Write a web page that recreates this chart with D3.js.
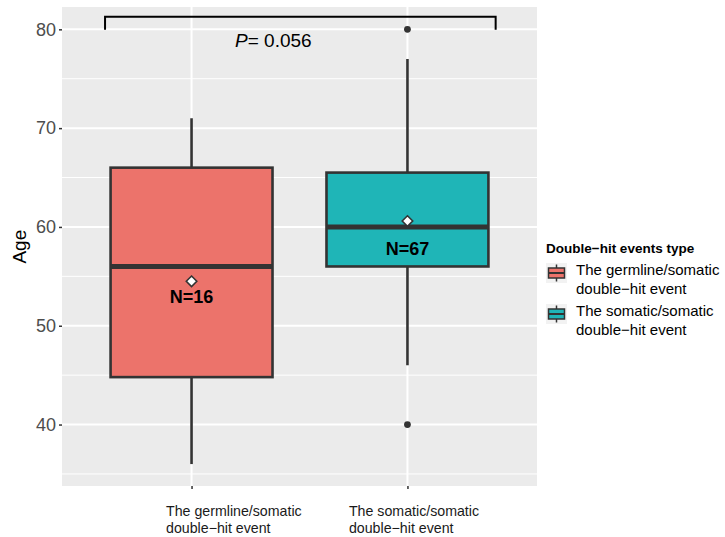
<!DOCTYPE html>
<html>
<head>
<meta charset="utf-8">
<script src="https://cdn.jsdelivr.net/npm/d3@7"></script>
<style>
  body { margin: 0; background: #fff; }
  svg { font-family: "Liberation Sans", Arial, sans-serif; display: block; }
</style>
</head>
<body>
<svg id="chart" width="725" height="537"></svg>
<script>
// groups and box statistics
const groups = ["The germline/somatic double\u2212hit event", "The somatic/somatic double\u2212hit event"]
const groupLines = [["The germline/somatic", "double\u2212hit event"], ["The somatic/somatic", "double\u2212hit event"]]
const lowerWhisker = [36, 46]
const q1 = [44.8, 56]
const median = [56, 60]
const q3 = [66, 65.5]
const upperWhisker = [71, 77]
const means = [54.5, 60.6]
const outliers = [[], [80, 40]]
const nLabels = ["N=16", "N=67"]
const nLabelY = [52.3, 57.2]
const colors = ["#ec736b", "#1fb5b7"]
const yTicks = [40, 50, 60, 70, 80]
const yMinor = [35, 45, 55, 65, 75]
const pText = "0.056"
const bracketY = 81.27
const bracketFoot = 79.95

const svg = d3.select("#chart")
const panel = { left: 62, right: 537, top: 7, bottom: 486 }

let x = d3.scalePoint().domain(groups).range([panel.left, panel.right]).padding(0.6)
let y = d3.scaleLinear().domain([33.78, 82.26]).range([panel.bottom, panel.top])
let boxW = x.step() * 0.75

// panel background + grid
svg.append("rect")
    .attr("x", panel.left).attr("y", panel.top)
    .attr("width", panel.right - panel.left).attr("height", panel.bottom - panel.top)
    .attr("fill", "#ebebeb")

svg.append("g").selectAll("line").data(yMinor).enter().append("line")
    .attr("x1", panel.left).attr("x2", panel.right)
    .attr("y1", (d) => y(d)).attr("y2", (d) => y(d))
    .attr("stroke", "#fff").attr("stroke-width", 1)

svg.append("g").selectAll("line").data(yTicks).enter().append("line")
    .attr("x1", panel.left).attr("x2", panel.right)
    .attr("y1", (d) => y(d)).attr("y2", (d) => y(d))
    .attr("stroke", "#fff").attr("stroke-width", 2)

svg.append("g").selectAll("line").data(groups).enter().append("line")
    .attr("x1", (d) => x(d)).attr("x2", (d) => x(d))
    .attr("y1", panel.top).attr("y2", panel.bottom)
    .attr("stroke", "#fff").attr("stroke-width", 2)

// y axis
let yAxis = svg.append("g")
    .attr("transform", "translate(" + panel.left + ",0)")
    .call(d3.axisLeft(y).tickValues(yTicks).tickSize(3).tickPadding(3))
yAxis.select(".domain").remove()
yAxis.selectAll(".tick line").attr("stroke", "#333").attr("stroke-width", 1.5)
yAxis.selectAll(".tick text")
    .attr("fill", "#4d4d4d").attr("font-size", 18).attr("font-family", "Liberation Sans, Arial")

svg.append("text")
    .attr("transform", "translate(26," + y(58) + ") rotate(-90)")
    .attr("text-anchor", "middle")
    .attr("font-size", 19)
    .attr("fill", "#000")
    .text("Age")

// x axis ticks + labels
let xAxis = svg.append("g")
    .attr("transform", "translate(0," + panel.bottom + ")")
    .call(d3.axisBottom(x).tickSize(3).tickFormat(""))
xAxis.select(".domain").remove()
xAxis.selectAll(".tick line").attr("stroke", "#333").attr("stroke-width", 1.5)

const labelShift = [-25.5, -58.5]
groups.forEach((g, i) => {
    let t = svg.append("text")
        .attr("x", x(g) + labelShift[i])
        .attr("y", 516)
        .attr("font-size", 14.2)
        .attr("fill", "#1a1a1a")
    groupLines[i].forEach((line, j) => {
        t.append("tspan").attr("x", x(g) + labelShift[i]).attr("dy", j === 0 ? 0 : 16.5).text(line)
    })
})

// boxes
let boxes = svg.append("g").selectAll("g").data(groups).enter().append("g")

boxes.append("line")
    .attr("x1", (d) => x(d)).attr("x2", (d) => x(d))
    .attr("y1", (d, i) => y(upperWhisker[i])).attr("y2", (d, i) => y(q3[i]))
    .attr("stroke", "#333").attr("stroke-width", 2.6)

boxes.append("line")
    .attr("x1", (d) => x(d)).attr("x2", (d) => x(d))
    .attr("y1", (d, i) => y(q1[i])).attr("y2", (d, i) => y(lowerWhisker[i]))
    .attr("stroke", "#333").attr("stroke-width", 2.6)

boxes.append("rect")
    .attr("x", (d) => x(d) - boxW / 2)
    .attr("width", boxW)
    .attr("y", (d, i) => y(q3[i]))
    .attr("height", (d, i) => y(q1[i]) - y(q3[i]))
    .attr("fill", (d, i) => colors[i])
    .attr("stroke", "#333").attr("stroke-width", 2.6)

boxes.append("line")
    .attr("x1", (d) => x(d) - boxW / 2).attr("x2", (d) => x(d) + boxW / 2)
    .attr("y1", (d, i) => y(median[i])).attr("y2", (d, i) => y(median[i]))
    .attr("stroke", "#333").attr("stroke-width", 5)

boxes.each(function (d, i) {
    d3.select(this).selectAll("circle").data(outliers[i]).enter().append("circle")
        .attr("cx", x(d)).attr("cy", (v) => y(v)).attr("r", 3.4)
        .attr("fill", "#333")
})

// means
boxes.append("path")
    .attr("d", d3.symbol(d3.symbolDiamond2, 70))
    .attr("transform", (d, i) => "translate(" + x(d) + "," + y(means[i]) + ")")
    .attr("fill", "#fff").attr("stroke", "#333").attr("stroke-width", 1.6)

boxes.append("text")
    .attr("x", (d) => x(d))
    .attr("y", (d, i) => y(nLabelY[i]))
    .attr("text-anchor", "middle")
    .attr("font-size", 18).attr("font-weight", "bold")
    .attr("fill", "#000")
    .text((d, i) => nLabels[i])

// significance bracket
let bx0 = x(groups[0]) - 86.5
let bx1 = x(groups[1]) + 88.2
svg.append("path")
    .attr("d", d3.line()([[bx0, y(bracketFoot)], [bx0, y(bracketY)], [bx1, y(bracketY)], [bx1, y(bracketFoot)]]))
    .attr("fill", "none").attr("stroke", "#000").attr("stroke-width", 2)

let pLabel = svg.append("text")
    .attr("x", 235).attr("y", 47)
    .attr("font-size", 19).attr("fill", "#000")
pLabel.append("tspan").attr("font-style", "italic").text("P")
pLabel.append("tspan").text("= " + pText)

// legend
let legend = svg.append("g").attr("transform", "translate(546,0)")
legend.append("text")
    .attr("x", 0).attr("y", 253)
    .attr("font-size", 13.5).attr("font-weight", "bold").attr("fill", "#000")
    .text("Double\u2212hit events type")

const keyTop = [263, 304]
groups.forEach((g, i) => {
    let k = legend.append("g").attr("transform", "translate(0," + keyTop[i] + ")")
    k.append("rect").attr("width", 21).attr("height", 20).attr("fill", "#f2f2f2")
    k.append("line").attr("x1", 10.5).attr("x2", 10.5).attr("y1", 1.5).attr("y2", 18.5)
        .attr("stroke", "#333").attr("stroke-width", 1.5)
    k.append("rect").attr("x", 2.5).attr("y", 5).attr("width", 16).attr("height", 10)
        .attr("fill", colors[i]).attr("stroke", "#333").attr("stroke-width", 1.5)
    k.append("line").attr("x1", 2.5).attr("x2", 18.5).attr("y1", 10).attr("y2", 10)
        .attr("stroke", "#333").attr("stroke-width", 2)
    let t = k.append("text").attr("x", 30).attr("y", 12).attr("font-size", 15).attr("fill", "#000")
    groupLines[i].forEach((line, j) => {
        t.append("tspan").attr("x", 30).attr("dy", j === 0 ? 0 : 19).text(line)
    })
})
</script>
</body>
</html>
